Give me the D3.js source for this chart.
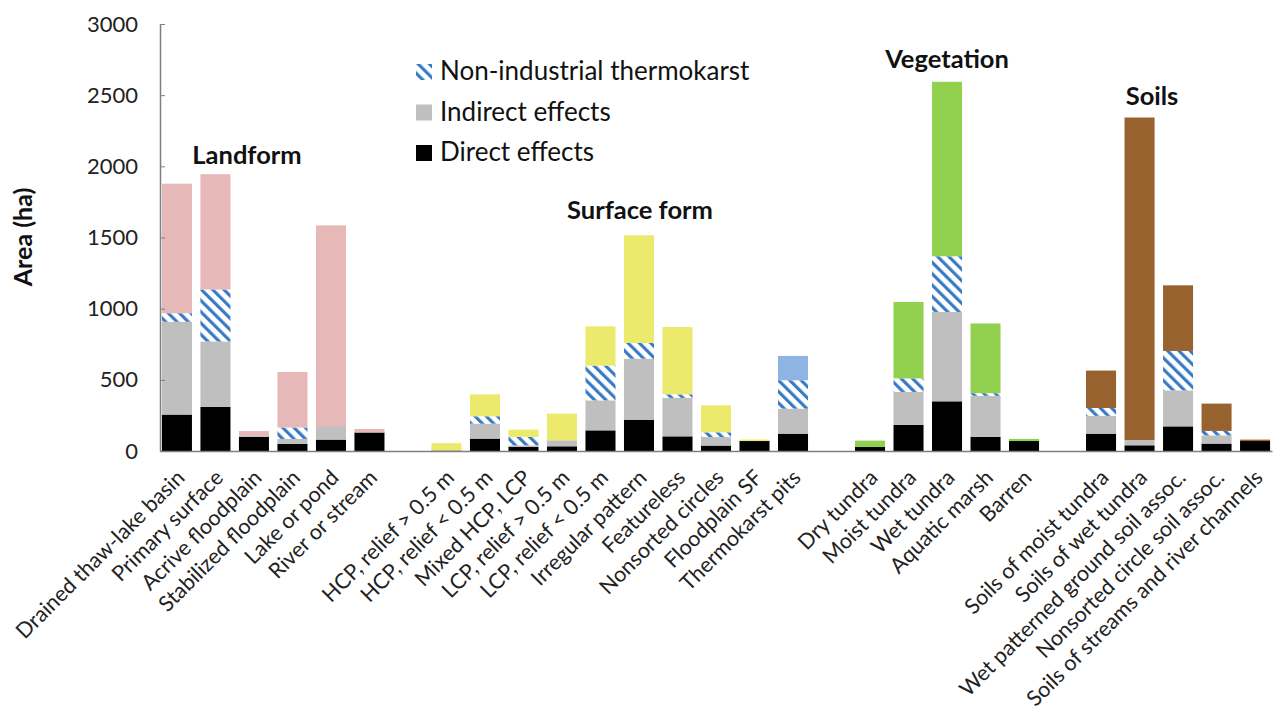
<!DOCTYPE html>
<html>
<head>
<meta charset="utf-8">
<script src="https://cdn.jsdelivr.net/npm/d3@7"></script>
<style>
  body { margin: 0; background: #fff; }
  svg { display: block; font-family: Lato, "Open Sans", sans-serif; }
</style>
</head>
<body>
<svg width="1273" height="715"></svg>
<script>
var groups = ["Landform", "Surface form", "Vegetation", "Soils"];

var categories = [
  "Drained thaw-lake basin", "Primary surface", "Acrive floodplain", "Stabilized floodplain", "Lake or pond", "River or stream",
  "HCP, relief > 0.5 m", "HCP, relief < 0.5 m", "Mixed HCP, LCP", "LCP, relief > 0.5 m", "LCP, relief < 0.5 m",
  "Irregular pattern", "Featureless", "Nonsorted circles", "Floodplain SF", "Thermokarst pits",
  "Dry tundra", "Moist tundra", "Wet tundra", "Aquatic marsh", "Barren",
  "Soils of moist tundra", "Soils of wet tundra", "Wet patterned ground soil assoc.", "Nonsorted circle soil assoc.", "Soils of streams and river channels"
];
var categoryGroup = [0,0,0,0,0,0, 1,1,1,1,1,1,1,1,1,1, 2,2,2,2,2, 3,3,3,3,3];

var direct      = [256, 310, 100, 50, 80, 130,  3, 87, 28, 33, 145, 220, 103, 38, 70, 122,  28, 183, 349, 100, 70,  122, 40, 173, 52, 70];
var indirect    = [652, 460, 5, 35, 95, 0,  0, 105, 12, 42, 211, 429, 270, 60, 0, 176,  0, 232, 628, 288, 0,  125, 37, 253, 58, 0];
var thermokarst = [60, 365, 0, 80, 0, 0,  0, 52, 59, 0, 244, 110, 25, 33, 0, 199,  0, 95, 391, 18, 0,  55, 0, 277, 31, 0];
var other       = [910, 810, 35, 390, 1410, 25,  52, 154, 51, 188, 276, 757, 473, 190, 10, 171,  45, 537, 1226, 490, 15,  263, 2266, 461, 192, 10];

var yTicks = [0, 500, 1000, 1500, 2000, 2500, 3000];
var legendLabels = ["Non-industrial thermokarst", "Indirect effects", "Direct effects"];

// colours
var groupColor = ["#e6b8b7", "#ebea6c", "#92d050", "#98622f"];
var pitsColor = "#8db4e2";
var hatchBlue = "#3a7cc4";

var svg = d3.select("svg");

var defs = svg.append("defs");
var pat = defs.append("pattern")
    .attr("id", "hatch")
    .attr("patternUnits", "userSpaceOnUse")
    .attr("width", 8)
    .attr("height", 8)
    .attr("patternTransform", "rotate(-45)");
pat.append("rect").attr("width", 8).attr("height", 8).attr("fill", "#fff");
pat.append("rect").attr("x", 0).attr("width", 3.2).attr("height", 8).attr("fill", hatchBlue);

// slot = index + group index, leaves one empty slot between groups
var slots = categories.map(function(c, i) { return i + categoryGroup[i]; });
var nSlots = categories.length + groups.length - 1;

var x = d3.scaleBand()
    .domain(d3.range(nSlots))
    .range([160, 1272])
    .paddingInner(0.22)
    .paddingOuter(0.05);

var y = d3.scaleLinear()
    .domain([0, 3000])
    .range([451, 24]);

// stacked data
var rows = categories.map(function(c, i) {
  return {name: c, slot: slots[i], group: categoryGroup[i],
          direct: direct[i], indirect: indirect[i], thermokarst: thermokarst[i], other: other[i]};
});
var keys = ["direct", "indirect", "thermokarst", "other"];
var stacked = d3.stack().keys(keys)(rows);

function fillFor(key, d) {
  if (key == "direct") return "#000";
  if (key == "indirect") return "#bfbfbf";
  if (key == "thermokarst") return "url(#hatch)";
  if (d.data.name == "Thermokarst pits") return pitsColor;
  return groupColor[d.data.group];
}

stacked.forEach(function(layer) {
  svg.append("g").selectAll("rect")
    .data(layer.filter(function(d) { return d[1] > d[0]; }))
    .enter().append("rect")
      .attr("x", function(d) { return x(d.data.slot); })
      .attr("width", x.bandwidth())
      .attr("y", function(d) { return y(d[1]); })
      .attr("height", function(d) { return y(d[0]) - y(d[1]); })
      .attr("fill", function(d) { return fillFor(layer.key, d); });
});

// y axis
var yAxis = svg.append("g")
    .attr("transform", "translate(160,0)")
    .call(d3.axisLeft(y).tickValues(yTicks).tickFormat(d3.format("d"))
      .tickSize(-5).tickPadding(22).tickSizeOuter(0));
yAxis.select(".domain").attr("stroke", "#7f7f7f").attr("stroke-width", 1.5);
yAxis.selectAll(".tick line").attr("stroke", "#7f7f7f");
yAxis.selectAll("text").attr("font-size", 22).attr("fill", "#222").attr("font-family", "Lato");

// x axis
var labelOf = {};
rows.forEach(function(r) { labelOf[r.slot] = r.name; });
var xAxis = svg.append("g")
    .attr("transform", "translate(0,451)")
    .call(d3.axisBottom(x).tickSize(0).tickFormat(function(s) { return labelOf[s] || ""; }));
xAxis.select(".domain").attr("stroke", "#7f7f7f").attr("stroke-width", 1.5);
xAxis.selectAll("text")
    .attr("font-size", 21.5)
    .attr("font-family", "Lato")
    .attr("fill", "#222")
    .attr("text-anchor", "end")
    .attr("dy", null)
    .attr("y", 0)
    .attr("transform", "translate(9,28) rotate(-45)");

// y label
svg.append("text")
    .attr("transform", "translate(32,237) rotate(-90)")
    .attr("text-anchor", "middle")
    .attr("font-size", 25)
    .attr("font-weight", "bold")
    .attr("fill", "#111")
    .text("Area (ha)");

// group labels
var groupLabelPos = [[247, 164], [640, 219], [947, 68], [1152, 105]];
groups.forEach(function(gname, i) {
  svg.append("text")
    .attr("x", groupLabelPos[i][0])
    .attr("y", groupLabelPos[i][1])
    .attr("text-anchor", "middle")
    .attr("font-size", 25.5)
    .attr("font-weight", "bold")
    .attr("fill", "#111")
    .text(gname);
});

// legend
var legendFill = ["url(#hatch)", "#bfbfbf", "#000"];
var legend = svg.append("g").attr("transform", "translate(416,64)");
legendLabels.forEach(function(l, i) {
  legend.append("rect")
    .attr("x", 0).attr("y", i * 40.5)
    .attr("width", 16).attr("height", 16)
    .attr("fill", legendFill[i]);
  legend.append("text")
    .attr("x", 24).attr("y", i * 40.5 + 16)
    .attr("font-size", 26)
    .attr("fill", "#111")
    .text(l);
});
</script>
</body>
</html>
